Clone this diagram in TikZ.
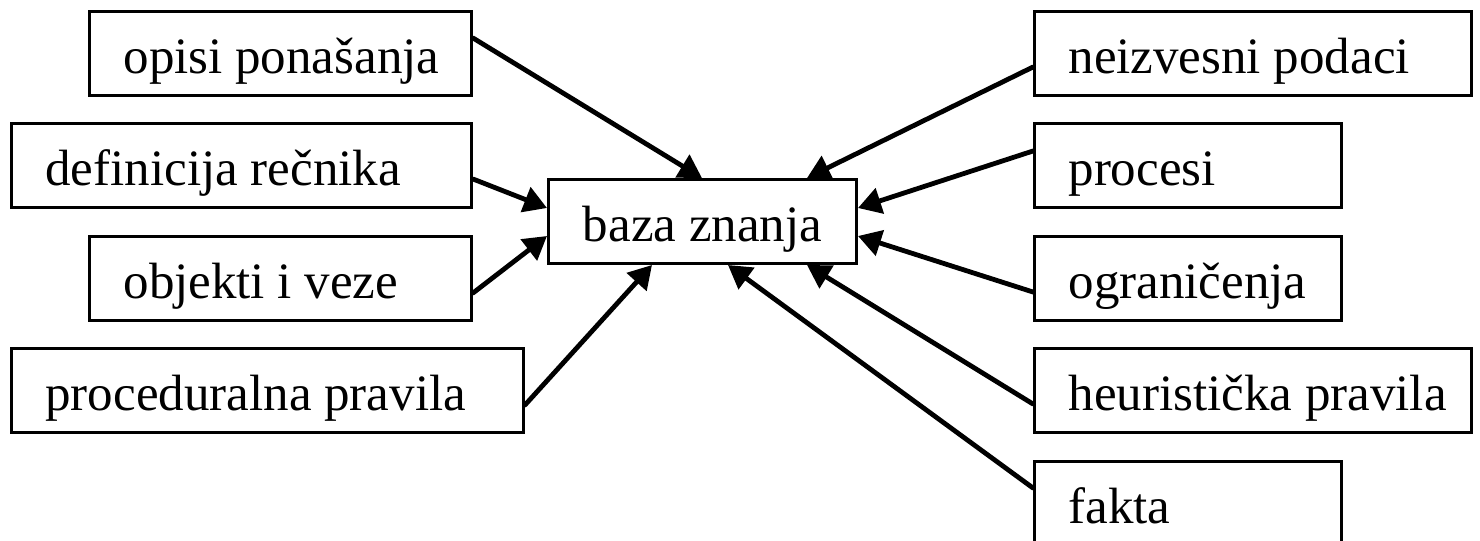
\documentclass[tikz,border=0pt]{standalone}
\usepackage{fontspec}
\setmainfont{Liberation Serif}
\usetikzlibrary{arrows.meta,calc}
\newcommand\boxtxt[3][l]{\makebox[#2][#1]{#3}}
\begin{document}
\begin{tikzpicture}[x=0.5pt,y=-0.5pt,
  bx/.style={draw, line width=1.5pt, inner xsep=17pt, inner ysep=0pt,
    text height=31pt, text depth=11pt, anchor=north west,
    font=\fontsize{25.5pt}{30pt}\selectfont},
  arr/.style={line width=2.4pt, line cap=round,
    -{Triangle[length=11.5pt,width=13pt]}}]
\clip (0,0) rectangle (1480,541);
\fill[white] (0,0) rectangle (1480,541);
% left column
\node[bx] (opisi) at (88,10) {\boxtxt{157pt}{opisi ponašanja}};
\node[bx] (defin) at (10,122) {\boxtxt{196pt}{definicija rečnika}};
\node[bx] (objek) at (88,235) {\boxtxt{157pt}{objekti i veze}};
\node[bx] (proce) at (10,347) {\boxtxt{222pt}{proceduralna pravila}};
% centre
\node[bx] (baza) at (547,178) {\boxtxt[c]{120pt}{baza znanja}};
% right column
\node[bx] (neizv) at (1033,10) {\boxtxt{184.5pt}{neizvesni podaci}};
\node[bx] (procs) at (1033,122) {\boxtxt{119.5pt}{procesi}};
\node[bx] (ogran) at (1033,235) {\boxtxt{119.5pt}{ograničenja}};
\node[bx] (heur) at (1033,347) {\boxtxt{184.5pt}{heuristička pravila}};
\node[bx] (fakta) at (1033,460) {\boxtxt{119.5pt}{fakta}};
% connectors
\draw[arr] ($(opisi.north east)+(0,28)$) -- ($(baza.north west)+(155,0)$);
\draw[arr] ($(defin.north east)+(0,57)$) -- ($(baza.north west)+(0,30)$);
\draw[arr] ($(objek.north east)+(0,58)$) -- ($(baza.north west)+(0,58)$);
\draw[arr] ($(proce.north east)+(0,58)$) -- ($(baza.south west)+(105,0)$);
\draw[arr] ($(neizv.north west)+(0,57)$) -- ($(baza.north west)+(260,0)$);
\draw[arr] ($(procs.north west)+(0,29)$) -- ($(baza.north east)+(0,30)$);
\draw[arr] ($(ogran.north west)+(0,57)$) -- ($(baza.north east)+(0,58)$);
\draw[arr] ($(heur.north west)+(0,57)$) -- ($(baza.south west)+(260,0)$);
\draw[arr] ($(fakta.north west)+(0,28)$) -- ($(baza.south west)+(181,0)$);
\end{tikzpicture}
\end{document}
